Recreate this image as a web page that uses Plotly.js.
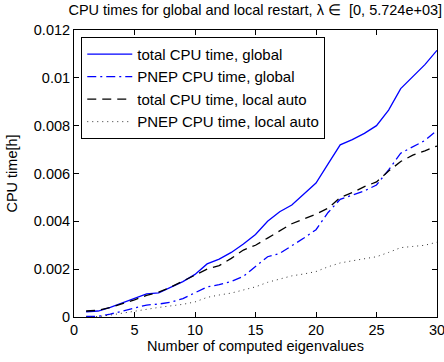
<!DOCTYPE html>
<html>
<head>
<meta charset="utf-8">
<script src="https://cdn.plot.ly/plotly-3.0.1.min.js"></script>
<style>html,body{margin:0;padding:0;background:#fff;}#chart{width:444px;height:362px;}</style>
</head>
<body>
<div id="chart"></div>
<script>
const eigCount = [1,2,3,4,5,6,7,8,9,10,11,12,13,14,15,16,17,18,19,20,21,22,23,24,25,26,27,28,29,30];
const totalGlobal = [0.00022,0.00025,0.00040,0.00058,0.00078,0.00097,0.00101,0.00125,0.00148,0.00178,0.00222,0.00242,0.00270,0.00305,0.00345,0.00400,0.00440,0.00468,0.00515,0.00560,0.00640,0.00720,0.00742,0.00768,0.00800,0.00865,0.00955,0.01004,0.01055,0.01115];
const pnepGlobal = [0.00003,0.00003,0.00012,0.00025,0.00038,0.00050,0.00054,0.00062,0.00077,0.00100,0.00126,0.00135,0.00149,0.00170,0.00212,0.00252,0.00266,0.00297,0.00330,0.00365,0.00437,0.00492,0.00508,0.00527,0.00552,0.00615,0.00685,0.00712,0.00738,0.00780];
const totalLocal = [0.00025,0.00028,0.00040,0.00055,0.00072,0.00090,0.00104,0.00125,0.00150,0.00175,0.00200,0.00215,0.00245,0.00280,0.00300,0.00330,0.00360,0.00390,0.00410,0.00430,0.00455,0.00500,0.00520,0.00545,0.00565,0.00610,0.00650,0.00677,0.00695,0.00715];
const pnepLocal = [0.00000,0.00002,0.00008,0.00015,0.00024,0.00032,0.00040,0.00046,0.00053,0.00063,0.00082,0.00092,0.00100,0.00113,0.00126,0.00145,0.00160,0.00172,0.00180,0.00190,0.00210,0.00226,0.00235,0.00245,0.00252,0.00270,0.00290,0.00295,0.00300,0.00313];
const seriesNames = ["total CPU time, global","PNEP CPU time, global","total CPU time, local auto","PNEP CPU time, local auto"];
const yTickVals = [0,0.002,0.004,0.006,0.008,0.01,0.012];
const yTickText = ["0","0.002","0.004","0.006","0.008","0.01","0.012"];
const xTickVals = [0,5,10,15,20,25,30];
const xTickText = ["0","5","10","15","20","25","30"];

const F = "Liberation Sans, Arial, Helvetica, sans-serif";
const traces = [
  {x: eigCount, y: totalGlobal, name: seriesNames[0], mode: 'lines', line: {color: '#0000ff', width: 1.3, dash: 'solid'}},
  {x: eigCount, y: pnepGlobal, name: seriesNames[1], mode: 'lines', line: {color: '#0000ff', width: 1.3, dash: '9px,4px,2px,4px'}},
  {x: eigCount, y: totalLocal, name: seriesNames[2], mode: 'lines', line: {color: '#000000', width: 1.3, dash: '9px,6px'}},
  {x: eigCount, y: pnepLocal, name: seriesNames[3], mode: 'lines', line: {color: '#333333', width: 1, dash: '1px,4px'}}
];
const axisCommon = {
  showline: true, linecolor: '#000', linewidth: 1, mirror: 'ticks',
  ticks: 'inside', ticklen: 5, tickcolor: '#000', tickwidth: 1,
  showgrid: false, zeroline: false, tickfont: {family: F, size: 14.5, color: '#000'},
  ticklabeloverflow: 'allow'
};
const layout = {
  width: 444, height: 362,
  margin: {l: 74, r: 7, t: 30, b: 45},
  paper_bgcolor: '#fff', plot_bgcolor: '#fff',
  font: {family: F, size: 14.5, color: '#000'},
  title: {text: 'CPU times for global and local restart, λ ∈  [0, 5.724e+03]', font: {family: F, size: 14.5, color: '#000'}, x: 0.575, xanchor: 'center', y: 0.972, yanchor: 'middle'},
  xaxis: Object.assign({}, axisCommon, {range: [0, 30], tickvals: xTickVals, ticktext: xTickText, title: {text: 'Number of computed eigenvalues', font: {family: F, size: 14.5}, standoff: 0}}),
  yaxis: Object.assign({}, axisCommon, {range: [0, 0.012], tickvals: yTickVals, ticktext: yTickText, title: {text: 'CPU time[h]', font: {family: F, size: 14.5}, standoff: 12}}),
  showlegend: true,
  legend: {x: 0.02, y: 0.976, xanchor: 'left', yanchor: 'top', bgcolor: '#fff', bordercolor: '#000', borderwidth: 1, font: {family: F, size: 15, color: '#000'}, tracegroupgap: 0, itemwidth: 45}
};
Plotly.newPlot('chart', traces, layout, {displayModeBar: false, staticPlot: true});
</script>
</body>
</html>
